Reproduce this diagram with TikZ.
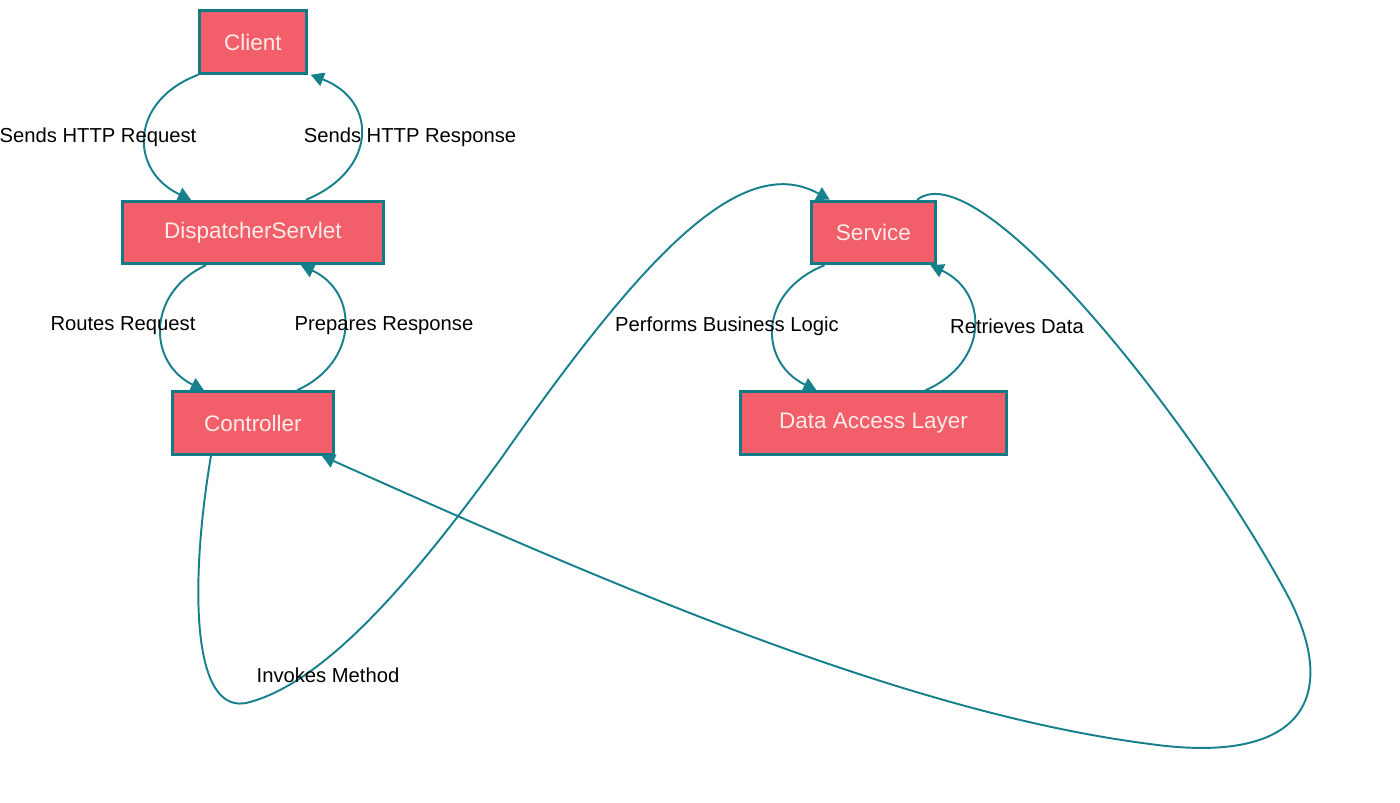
\documentclass[tikz,border=0pt]{standalone}
\usepackage{fontspec}
\setmainfont{Liberation Sans}
\usepackage{xcolor}
\usepackage{tikz}
\usetikzlibrary{arrows.meta, positioning, calc}

\begin{document}
\begin{tikzpicture}[
        node distance=2.5cm and 8.5cm,
        layerbox/.style={draw, line width=1.7pt,
            fill={rgb,255:red,242;green,94;blue,106},
            draw={rgb,255:red,18;green,122;blue,132},
            text={rgb,255:red,253;green,236;blue,232},
            font=\fontsize{12.8}{15}\selectfont, minimum height=1.25cm, inner sep=0pt},
        arrow/.style={-{Triangle[length=0.26cm, width=0.28cm]}, line width=1.1pt,
            color={rgb,255:red,22;green,128;blue,140}},
        edgelabel/.style={font=\fontsize{11.5}{14}\selectfont, inner sep=0pt},
    ]
        \useasboundingbox (-5.06,0.84) rectangle (22.94,-15.2);

        % Nodes
        \node[layerbox, minimum width=2.13cm] (client) {Client};
        \node[layerbox, minimum width=5.21cm, below=of client] (dispatcher) {DispatcherServlet};
        \node[layerbox, minimum width=3.21cm, below=of dispatcher] (controller) {Controller};
        \node[layerbox, minimum width=2.49cm, right=of dispatcher] (service) {Service};
        \node[layerbox, minimum width=5.33cm, below=of service] (dal) {Data Access Layer};

        % Client <-> DispatcherServlet
        \draw[arrow] (client.south west) .. controls +(-1.38,-0.52) and +(-1.24,0.58) .. ($(dispatcher.north)+(-1.24,0)$);
        \draw[arrow] ($(dispatcher.north)+(1.06,0)$) .. controls +(1.42,0.58) and +(1.36,-0.52) .. ($(client.south east)+(0.06,0)$);
        \node[edgelabel] (lblrequest) at (-3.1,-1.9) {Sends HTTP Request};
        \node[edgelabel] (lblresponse) at (3.14,-1.9) {Sends HTTP Response};

        % DispatcherServlet <-> Controller
        \draw[arrow] ($(dispatcher.south)+(-0.94,0)$) .. controls +(-1.18,-0.54) and +(-1.14,0.56) .. ($(controller.north)+(-0.98,0)$);
        \draw[arrow] ($(controller.north)+(0.88,0)$) .. controls +(1.24,0.56) and +(1.16,-0.54) .. ($(dispatcher.south)+(0.96,0)$);
        \node[edgelabel] (lblroutes) at (-2.6,-5.68) {Routes Request};
        \node[edgelabel] (lblprepares) at (2.62,-5.68) {Prepares Response};

        % Service <-> Data Access Layer
        \draw[arrow] ($(service.south)+(-0.98,0)$) .. controls +(-1.34,-0.54) and +(-1.16,0.56) .. ($(dal.north)+(-1.14,0)$);
        \draw[arrow] ($(dal.north)+(1.04,0)$) .. controls +(1.28,0.56) and +(1.16,-0.54) .. ($(service.south)+(1.14,0)$);
        \node[edgelabel] (lblbusiness) at (9.48,-5.68) {Performs Business Logic};
        \node[edgelabel] (lblretrieves) at (15.28,-5.68) {Retrieves Data};

        % Controller -> Service
        \draw[arrow] ($(controller.south)+(-0.84,0)$)
            .. controls (-1.26,-10.76) and (-1.26,-13.56) .. (-0.06,-13.2)
            .. controls (1.54,-12.76) and (3.34,-10.56) .. (4.94,-8.36)
            .. controls (7.74,-4.36) and (9.74,-2.16) .. ($(service.north west)+(0.4,0)$);
        \node[edgelabel] (lblinvokes) at (1.5,-12.66) {Invokes Method};

        % Service -> Controller
        \draw[arrow] ($(service.north east)+(-0.4,0)$)
            .. controls (14.54,-2.16) and (18.94,-7.76) .. (20.74,-11.16)
            .. controls (21.74,-13.16) and (20.94,-14.46) .. (17.94,-14.04)
            .. controls (12.94,-13.4) and (6.94,-10.76) .. ($(controller.south east)+(-0.26,0)$);

    \end{tikzpicture}
\end{document}
